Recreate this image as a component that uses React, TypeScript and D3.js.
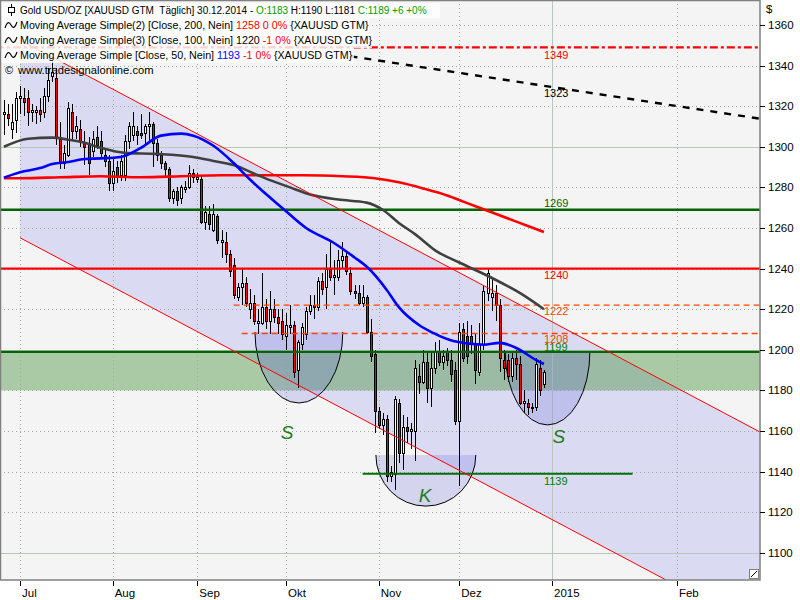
import React from 'react';
import * as d3 from 'd3';

// ---------- data ----------
const firstSlot = -4; // slot 0 = 1 Jul 2014 (weekday slots)
const opens = [1316,1316,1309,1313,1324,1324,1324,1317,1317,1318,1317,1325,1335,1334,1304,1292,1296,1317,1308,1309,1302,1302,1298,1305,1303,1296,1293,1282,1290,1286,1286,1303,1306,1308,1307,1307,1310,1311,1302,1296,1292,1289,1275,1278,1275,1279,1280,1287,1284,1284,1263,1267,1259,1266,1253,1253,1247,1242,1226,1231,1233,1220,1223,1213,1213,1221,1214,1220,1216,1214,1207,1211,1212,1190,1203,1208,1219,1222,1221,1234,1231,1240,1236,1236,1244,1246,1238,1229,1228,1223,1226,1209,1198,1170,1163,1166,1138,1139,1174,1149,1162,1160,1160,1187,1184,1194,1181,1191,1199,1194,1199,1195,1190,1165,1210,1207,1207,1203,1189,1203,1228,1226,1228,1222,1195,1195,1187,1196,1193,1174,1174,1172,1172,1191,1183];
const highs = [1323,1321,1321,1327,1330,1329,1328,1321,1320,1324,1329,1339,1344,1339,1312,1301,1322,1321,1315,1313,1308,1305,1308,1310,1308,1299,1296,1294,1293,1296,1306,1312,1317,1310,1316,1311,1317,1312,1304,1298,1293,1290,1279,1280,1281,1283,1291,1289,1287,1286,1271,1271,1272,1267,1259,1258,1249,1245,1233,1240,1236,1230,1227,1220,1238,1225,1229,1225,1220,1220,1218,1222,1214,1205,1213,1221,1227,1227,1236,1238,1247,1253,1244,1249,1253,1248,1241,1232,1232,1232,1227,1215,1200,1172,1169,1168,1143,1177,1176,1168,1167,1164,1195,1193,1200,1199,1199,1204,1205,1200,1201,1200,1194,1213,1213,1214,1212,1208,1213,1232,1240,1236,1232,1225,1200,1198,1199,1200,1197,1180,1176,1174,1196,1195,1190];
const lows = [1306,1310,1304,1307,1316,1315,1310,1312,1311,1312,1314,1322,1332,1301,1289,1289,1295,1303,1304,1300,1291,1286,1295,1299,1295,1290,1278,1278,1282,1283,1283,1299,1303,1301,1304,1301,1302,1290,1293,1289,1285,1273,1272,1271,1272,1277,1279,1282,1282,1262,1259,1259,1258,1252,1245,1243,1236,1225,1224,1222,1221,1215,1212,1208,1212,1210,1208,1213,1208,1205,1200,1208,1186,1181,1200,1205,1217,1215,1219,1227,1220,1234,1227,1234,1240,1237,1227,1225,1222,1221,1208,1194,1159,1161,1158,1135,1135,1131,1144,1141,1154,1151,1145,1178,1183,1174,1172,1188,1192,1190,1192,1184,1163,1133,1194,1193,1198,1183,1187,1200,1224,1219,1214,1189,1185,1184,1184,1185,1173,1169,1168,1169,1170,1177,1181];
const closes = [1317,1314,1312,1324,1325,1322,1317,1318,1318,1316,1325,1333,1337,1305,1292,1297,1319,1308,1310,1303,1300,1292,1304,1301,1297,1293,1282,1288,1285,1293,1303,1310,1310,1306,1306,1310,1311,1302,1296,1292,1289,1275,1278,1274,1280,1280,1287,1285,1285,1263,1268,1262,1267,1254,1254,1247,1239,1227,1231,1233,1223,1223,1214,1214,1221,1214,1220,1216,1213,1208,1212,1212,1189,1204,1211,1219,1222,1221,1234,1230,1240,1236,1237,1244,1246,1239,1229,1228,1223,1226,1209,1197,1170,1163,1166,1138,1140,1176,1149,1162,1160,1161,1191,1184,1194,1181,1191,1199,1194,1197,1195,1188,1165,1209,1196,1197,1203,1190,1203,1229,1238,1228,1222,1196,1191,1187,1196,1193,1174,1175,1172,1172,1193,1180,1189];

const ma200Slots = [-4, 0, 10, 20, 30, 40, 50, 60, 70, 80, 88, 94, 100, 106, 110, 114, 118, 122, 126, 130];
const ma200Values = [1284.5, 1284.5, 1285, 1285.5, 1285, 1285.5, 1286, 1286, 1286, 1285.5, 1284.5, 1282.5, 1279.5, 1276, 1273, 1270, 1267, 1264, 1261, 1258];
const ma100Slots = [-4, 2, 8, 12, 16, 20, 26, 34, 43, 48, 53, 59, 62, 67, 72, 79, 86, 90, 94, 98, 103, 109, 117, 124, 130];
const ma100Values = [1300, 1304, 1304.5, 1303.5, 1302, 1299.5, 1297, 1296.5, 1295, 1293, 1291, 1286, 1283.6, 1280, 1276.5, 1274, 1272.5, 1269, 1262.5, 1257, 1249, 1243, 1235.5, 1228, 1220];
const ma50Slots = [-4, 0, 5, 8, 12, 16, 20, 25, 30, 35, 40, 43, 48, 53, 57, 59, 65, 71, 78, 83, 86, 91, 94, 99, 102.5, 107.5, 115, 119, 123, 128, 130];
const ma50Values = [1284.8, 1287.5, 1289.5, 1291.5, 1292.5, 1294, 1294.3, 1295, 1299.5, 1305.5, 1306.5, 1305.5, 1300.5, 1292, 1284, 1280.3, 1270, 1260, 1252.5, 1245.5, 1241, 1229.5, 1221, 1212.2, 1208.3, 1204.3, 1202.5, 1203.4, 1201, 1195, 1193];

const channelSlots = [0, 184];
const channelUpper = [1352.6, 1159.1];
const channelLower = [1255.2, 1061.7];

const bandValues = [1199, 1180];

const levelValues = [1349, 1269, 1240, 1222, 1208, 1199, 1139];
const levelStartSlots = [-6, -6, -6, 53, 55, -6, 85];
const levelEndSlots = [186, 186, 186, 186, 186, 186, 152];
const labelSlot = 130;

const trendSlots = [82, 186];
const trendValues = [1344.6, 1313.1];
const trendLabel = 1323;

const capCenters = [69.2, 100.7, 130.9];
const capHalfWidths = [10.9, 12.4, 10.5];
const capTops = [1208.8, 1148.2, 1199];
const capBottoms = [1173.8, 1123, 1163];
const capLabels = ['S', 'K', 'S'];
const capLabelSlots = [66.3, 100.5, 133.7];
const capLabelValues = [1159.5, 1128.5, 1157.5];

const priceTicks = [1100, 1120, 1140, 1160, 1180, 1200, 1220, 1240, 1260, 1280, 1300, 1320, 1340, 1360];
const majorPrices = [1100, 1200, 1300];
const monthLabels = ['Jul', 'Aug', 'Sep', 'Okt', 'Nov', 'Dez', '2015', 'Feb'];
const monthSlots = [0, 23, 44, 66, 89, 109, 132, 163];

// ---------- styles ----------
const FONT = 'Liberation Sans, Arial, sans-serif';
const PR = 760; // plot right
const PB = 580; // plot bottom
const levelColors = ['#FF0000', '#006400', '#FF0000', '#FF4500', '#FF4500', '#006400', '#007000'];
const labelColors = ['#FF0000', '#006400', '#FF0000', '#FF4500', '#FF4500', '#008000', '#008000'];
const levelDash = ['8,3,3,3', null, null, '6,4', '6,4', null, null];
const levelWidth = [2.2, 2.4, 2.4, 1.4, 1.4, 2.4, 2];
const labelDy = [12, -3, 10.5, 10, 9.5, -1, 11.5];
const legendSizes = [10.0, 10.7, 10.7, 10.7];

export default function App() {
  const x = d3.scaleLinear().domain([0, 132]).range([20, 552]);
  const y = d3.scaleLinear().domain([1100, 1360]).range([552.8, 25]);
  const ln = d3.line<[number, number]>().x(d => x(d[0])).y(d => y(d[1])).curve(d3.curveMonotoneX);
  const zip = (a: number[], b: number[]) => a.map((v, i) => [v, b[i]] as [number, number]);

  const channelPath = `M${x(channelSlots[0])},${y(channelUpper[0])}L${x(channelSlots[1])},${y(channelUpper[1])}L${x(channelSlots[1])},${y(channelLower[1])}L${x(channelSlots[0])},${y(channelLower[0])}Z`;

  const caps = capCenters.map((c, i) => {
    const xl = x(c - capHalfWidths[i]);
    const xr = x(c + capHalfWidths[i]);
    const yt = y(capTops[i]);
    const rx = (xr - xl) / 2;
    const ry = y(capBottoms[i]) - yt;
    return { arc: `M${xl},${yt}A${rx},${ry} 0 0 0 ${xr},${yt}`, fill: `M${xl},${yt}A${rx},${ry} 0 0 0 ${xr},${yt}Z` };
  });

  const legendRows = [
    { w: 440, parts: [['Gold USD/OZ [XAUUSD GTM  Täglich] 30.12.2014 - ', '#000'], ['O:1183', '#00A000'], [' H:1190 L:1181 ', '#000'], ['C:1189 +6 +0%', '#00A000']] },
    { w: 369, parts: [['Moving Average Simple(2) [Close, 200, Nein] ', '#000'], ['1258 0 0%', '#FF0000'], [' {XAUUSD GTM}', '#000']] },
    { w: 372, parts: [['Moving Average Simple(3) [Close, 100, Nein] 1220', '#000'], [' -1 0%', '#FF0000'], [' {XAUUSD GTM}', '#000']] },
    { w: 354, parts: [['Moving Average Simple [Close, 50, Nein] ', '#000'], ['1193', '#0000FF'], [' -1 0%', '#FF0000'], [' {XAUUSD GTM}', '#000']] },
  ];

  return (
    <svg width={800} height={600} style={{ position: 'absolute', left: 0, top: 0, fontFamily: FONT }}>
      <defs>
        <clipPath id="plot"><rect x={1} y={1} width={PR - 1} height={PB - 1} /></clipPath>
      </defs>
      <rect x={0} y={0} width={800} height={600} fill="#FFFFFF" />
      <rect x={0} y={0} width={PR} height={PB} fill="#F4F4F4" />
      <g clipPath="url(#plot)">
        <path d={channelPath} fill="#DADAF2" />
        <rect x={0} y={y(bandValues[0])} width={PR} height={y(bandValues[1]) - y(bandValues[0])} fill="rgba(60,140,50,0.4)" />
        {priceTicks.filter(p => !majorPrices.includes(p)).map(p => (
          <line key={p} x1={0} x2={PR} y1={Math.round(y(p)) + 0.5} y2={Math.round(y(p)) + 0.5} stroke="#A0A8A0" strokeDasharray="1,3" />
        ))}
        {majorPrices.map(p => (
          <line key={p} x1={0} x2={PR} y1={Math.round(y(p)) + 0.5} y2={Math.round(y(p)) + 0.5} stroke="#B8C8B8" />
        ))}
        {monthSlots.map((s, i) => (
          <line key={i} x1={Math.round(x(s)) + 0.5} x2={Math.round(x(s)) + 0.5} y1={0} y2={PB}
            stroke={monthLabels[i] === '2015' ? '#B8C8B8' : '#A0A8A0'} strokeDasharray={monthLabels[i] === '2015' ? undefined : '1,3'} />
        ))}
        {caps.map((c, i) => (
          <g key={i}>
            <path d={c.fill} fill="rgba(100,100,220,0.22)" />
            <path d={c.arc} fill="none" stroke="#000" strokeWidth={1} />
          </g>
        ))}
        {opens.map((o, i) => {
          const s = firstSlot + i;
          const c = closes[i];
          const cx = Math.round(x(s));
          const top = Math.round(y(Math.max(o, c))) + 0.5;
          const bot = Math.round(y(Math.min(o, c))) + 0.5;
          return (
            <g key={i}>
              <line x1={cx + 0.5} x2={cx + 0.5} y1={Math.round(y(highs[i]))} y2={Math.round(y(lows[i]))} stroke="#000" />
              <rect x={cx - 0.5} y={top} width={2} height={Math.max(1, bot - top)} fill={c >= o ? '#FFFFFF' : '#FF0000'} stroke="#000" strokeWidth={1} />
            </g>
          );
        })}
        {levelValues.map((v, i) => (
          <line key={v} x1={x(levelStartSlots[i])} x2={x(levelEndSlots[i])} y1={y(v)} y2={y(v)}
            stroke={levelColors[i]} strokeWidth={levelWidth[i]} strokeDasharray={levelDash[i] || undefined} />
        ))}
        <path d={ln(zip(trendSlots, trendValues)) || ''} fill="none" stroke="#000" strokeWidth={2.4} strokeDasharray="7,7" />
        <path d={ln(zip(ma200Slots, ma200Values)) || ''} fill="none" stroke="#FF0000" strokeWidth={2.6} />
        <path d={ln(zip(ma100Slots, ma100Values)) || ''} fill="none" stroke="#404040" strokeWidth={2.6} />
        <path d={ln(zip(ma50Slots, ma50Values)) || ''} fill="none" stroke="#0000FF" strokeWidth={2.6} />
        <line x1={x(channelSlots[0])} x2={x(channelSlots[1])} y1={y(channelUpper[0])} y2={y(channelUpper[1])} stroke="#FF0000" strokeWidth={1} />
        <line x1={x(channelSlots[0])} x2={x(channelSlots[1])} y1={y(channelLower[0])} y2={y(channelLower[1])} stroke="#FF0000" strokeWidth={1} />
        {levelValues.map((v, i) => (
          <text key={v} x={x(labelSlot)} y={y(v) + labelDy[i]} fontSize={11} fill={labelColors[i]}>{v}</text>
        ))}
        <text x={x(labelSlot)} y={y(trendLabel) - 3} fontSize={11} fill="#000">{trendLabel}</text>
        {capLabels.map((t, i) => (
          <text key={i} x={x(capLabelSlots[i])} y={y(capLabelValues[i]) + 7} fontSize={19} fontStyle="italic" textAnchor="middle" fill="#1E7B1E">{t}</text>
        ))}
        {legendRows.map((r, i) => (
          <rect key={i} x={0} y={3 + i * 15} width={r.w} height={15} fill="rgba(255,255,255,0.82)" />
        ))}
        {legendRows.map((r, i) => (
          <text key={i} x={20} y={14 + i * 15} fontSize={legendSizes[i]} style={{ whiteSpace: 'pre' }}>
            {r.parts.map((p, j) => <tspan key={j} fill={p[1]}>{p[0]}</tspan>)}
          </text>
        ))}
        <g stroke="#000" fill="none">
          <line x1={11.5} x2={11.5} y1={4} y2={16} />
          <rect x={8.5} y={7.5} width={6} height={5} fill="#FFF" />
          {[1, 2, 3].map(i => {
            const c = 10 + i * 15;
            return <path key={i} d={`M5,${c + 3}Q8,${c - 6} 11,${c}Q14,${c + 6} 17,${c - 3}`} strokeWidth={1.1} />;
          })}
        </g>
        <text x={5} y={74} fontSize={11}>©</text>
        <text x={18} y={74} fontSize={11.2}>www.tradesignalonline.com</text>
      </g>
      <rect x={0.5} y={0.5} width={PR - 0.5} height={PB - 0.5} fill="none" stroke="#808080" strokeWidth={1.5} />
      <rect x={PR - 10.5} y={PB - 10.5} width={9} height={9} fill="#FFF" stroke="#808080" />
      <line x1={PR - 3} x2={PR - 9} y1={PB - 9} y2={PB - 3} stroke="#000" />
      <text x={766} y={13} fontSize={11.5}>$</text>
      {priceTicks.map(p => (
        <g key={p}>
          <line x1={PR} x2={PR + 5} y1={Math.round(y(p)) + 0.5} y2={Math.round(y(p)) + 0.5} stroke="#000" />
          <text x={768} y={y(p) + 4} fontSize={11.5}>{p}</text>
        </g>
      ))}
      {monthSlots.map((s, i) => (
        <g key={i}>
          <line x1={Math.round(x(s)) + 0.5} x2={Math.round(x(s)) + 0.5} y1={PB + 1} y2={PB + 6} stroke="#000" />
          <text x={x(s) + 2} y={597} fontSize={11.5}>{monthLabels[i]}</text>
        </g>
      ))}
    </svg>
  );
}
